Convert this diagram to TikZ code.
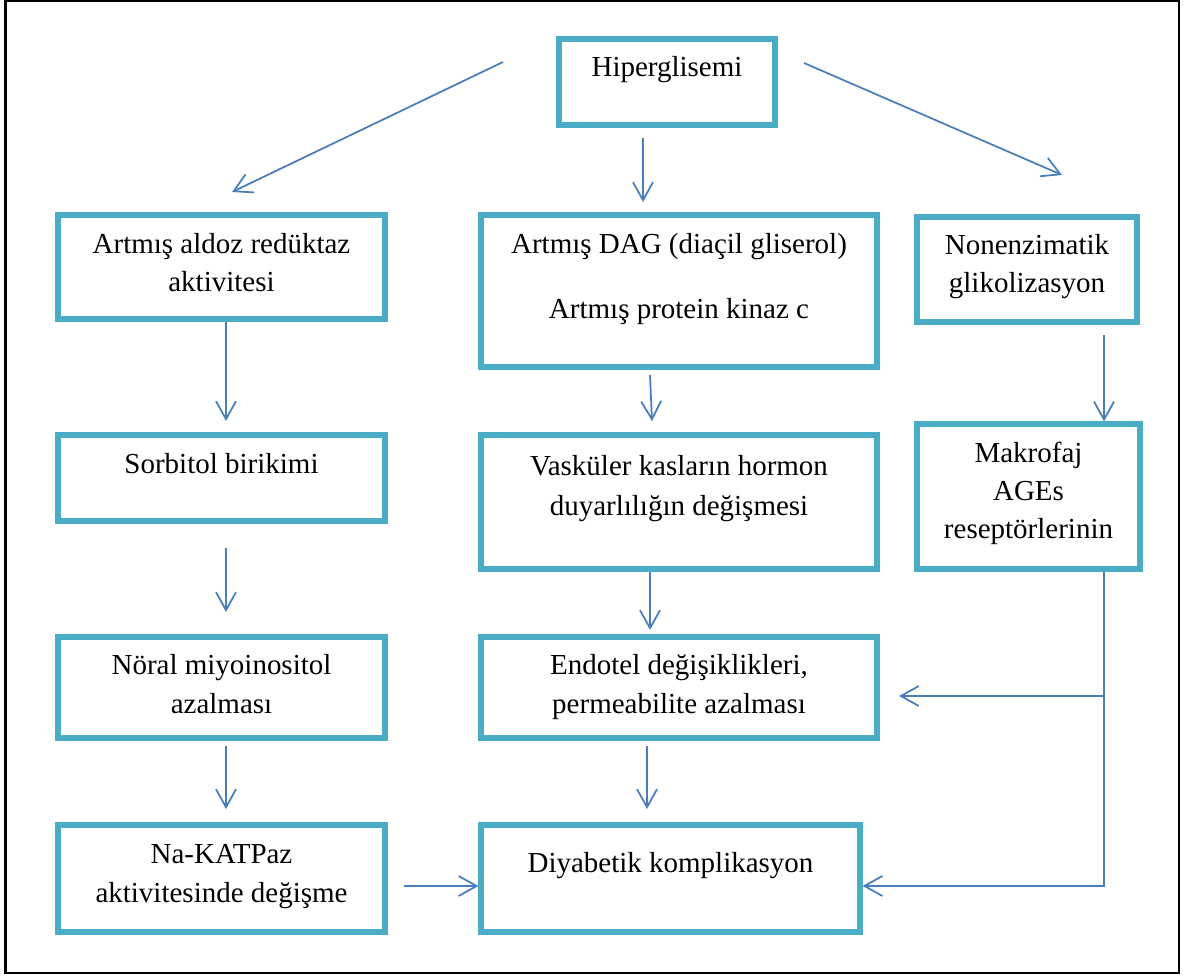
\documentclass[tikz,border=0pt]{standalone}
\usepackage{fontspec}
\setmainfont{Liberation Serif}
\usetikzlibrary{arrows.meta}
\definecolor{boxcol}{HTML}{4BACC6}
\definecolor{arrcol}{HTML}{4A7EBB}

\begin{document}
\begin{tikzpicture}[x=0.02cm,y=-0.02cm,
  box/.style={draw=boxcol,line width=3pt,inner sep=0pt},
  arr/.style={arrcol,line width=1pt,-{Straight Barb[length=0.36cm,width=0.4cm]}},
  txt/.style={anchor=base,inner sep=0pt,font=\fontsize{16.5}{20}\selectfont}]

\useasboundingbox (0,0) rectangle (1185,976);
\draw[line width=1.2pt] (5.5,1) rectangle (1179,973);

% boxes
\node[box,minimum width=4.32cm,minimum height=1.72cm] (hip) at (667,82) {};
\node[box,minimum width=6.54cm,minimum height=2.08cm] (ald) at (221.5,267) {};
\node[box,minimum width=7.92cm,minimum height=3.04cm] (dag) at (679,291) {};
\node[box,minimum width=4.4cm,minimum height=2.1cm] (non) at (1027,269.5) {};
\node[box,minimum width=6.54cm,minimum height=1.72cm] (sor) at (221.5,478) {};
\node[box,minimum width=7.92cm,minimum height=2.68cm] (vas) at (679,502) {};
\node[box,minimum width=4.46cm,minimum height=2.9cm] (mak) at (1028.5,496.5) {};
\node[box,minimum width=6.54cm,minimum height=2.02cm] (nor) at (221.5,687.5) {};
\node[box,minimum width=7.92cm,minimum height=2.02cm] (end) at (679,687.5) {};
\node[box,minimum width=6.54cm,minimum height=2.14cm] (na) at (221.5,878.5) {};
\node[box,minimum width=7.58cm,minimum height=2.14cm] (diy) at (670.5,878.5) {};

% texts
\node[txt] (hip1) at (667,77) {Hiperglisemi};
\node[txt] (ald1) at (221.5,254) {Artmış aldoz redüktaz};
\node[txt] (ald2) at (221.5,292) {aktivitesi};
\node[txt] (dag1) at (679,254) {Artmış DAG (diaçil gliserol)};
\node[txt] (dag2) at (679,318) {Artmış protein kinaz c};
\node[txt] (non1) at (1027,255) {Nonenzimatik};
\node[txt] (non2) at (1027,293) {glikolizasyon};
\node[txt] (sor1) at (221.5,473) {Sorbitol birikimi};
\node[txt] (vas1) at (679,475) {Vasküler kasların hormon};
\node[txt] (vas2) at (679,515) {duyarlılığın değişmesi};
\node[txt] (mak1) at (1028.5,462) {Makrofaj};
\node[txt] (mak2) at (1028.5,500) {AGEs};
\node[txt] (mak3) at (1028.5,538) {reseptörlerinin};
\node[txt] (nor1) at (221.5,674) {Nöral miyoinositol};
\node[txt] (nor2) at (221.5,713) {azalması};
\node[txt] (end1) at (679,674) {Endotel değişiklikleri,};
\node[txt] (end2) at (679,713) {permeabilite azalması};
\node[txt] (na1) at (221.5,863) {Na-KATPaz};
\node[txt] (na2) at (221.5,902) {aktivitesinde değişme};
\node[txt] (diy1) at (670.5,872) {Diyabetik komplikasyon};

% arrow ends
\coordinate (h1) at (503,62);   \coordinate (h1e) at (232,192);
\coordinate (h2) at (643,138);  \coordinate (h2e) at (643,202);
\coordinate (h3) at (804,63);   \coordinate (h3e) at (1062,175);
\coordinate (a1e) at (226,421);
\coordinate (d1) at (650,375);  \coordinate (d1e) at (652,421);
\coordinate (n1) at (1104,335);
\coordinate (s1) at (226,548);  \coordinate (s1e) at (226,612);
\coordinate (v1e) at (650,630);
\coordinate (mk) at (1104,886);
\coordinate (m1) at (1104,696); \coordinate (m1e) at (899,696);
\coordinate (r1) at (226,746);  \coordinate (r1e) at (226,809);
\coordinate (e1) at (647,746);  \coordinate (e1e) at (647,809);
\coordinate (k1) at (404,886);

\draw[arr] (h1) -- (h1e);
\draw[arr] (h2) -- (h2e);
\draw[arr] (h3) -- (h3e);
\draw[arr] (ald.south -| a1e) -- (a1e);
\draw[arr] (d1) -- (d1e);
\draw[arr] (n1) -- (n1 |- mak.north);
\draw[arr] (s1) -- (s1e);
\draw[arr] (vas.south -| v1e) -- (v1e);
\draw[arr] (mak.south -| mk) -- (mk) -- (mk -| diy.east);
\draw[arr] (m1) -- (m1e);
\draw[arr] (r1) -- (r1e);
\draw[arr] (e1) -- (e1e);
\draw[arr] (k1) -- (k1 -| diy.west);
\end{tikzpicture}
\end{document}
